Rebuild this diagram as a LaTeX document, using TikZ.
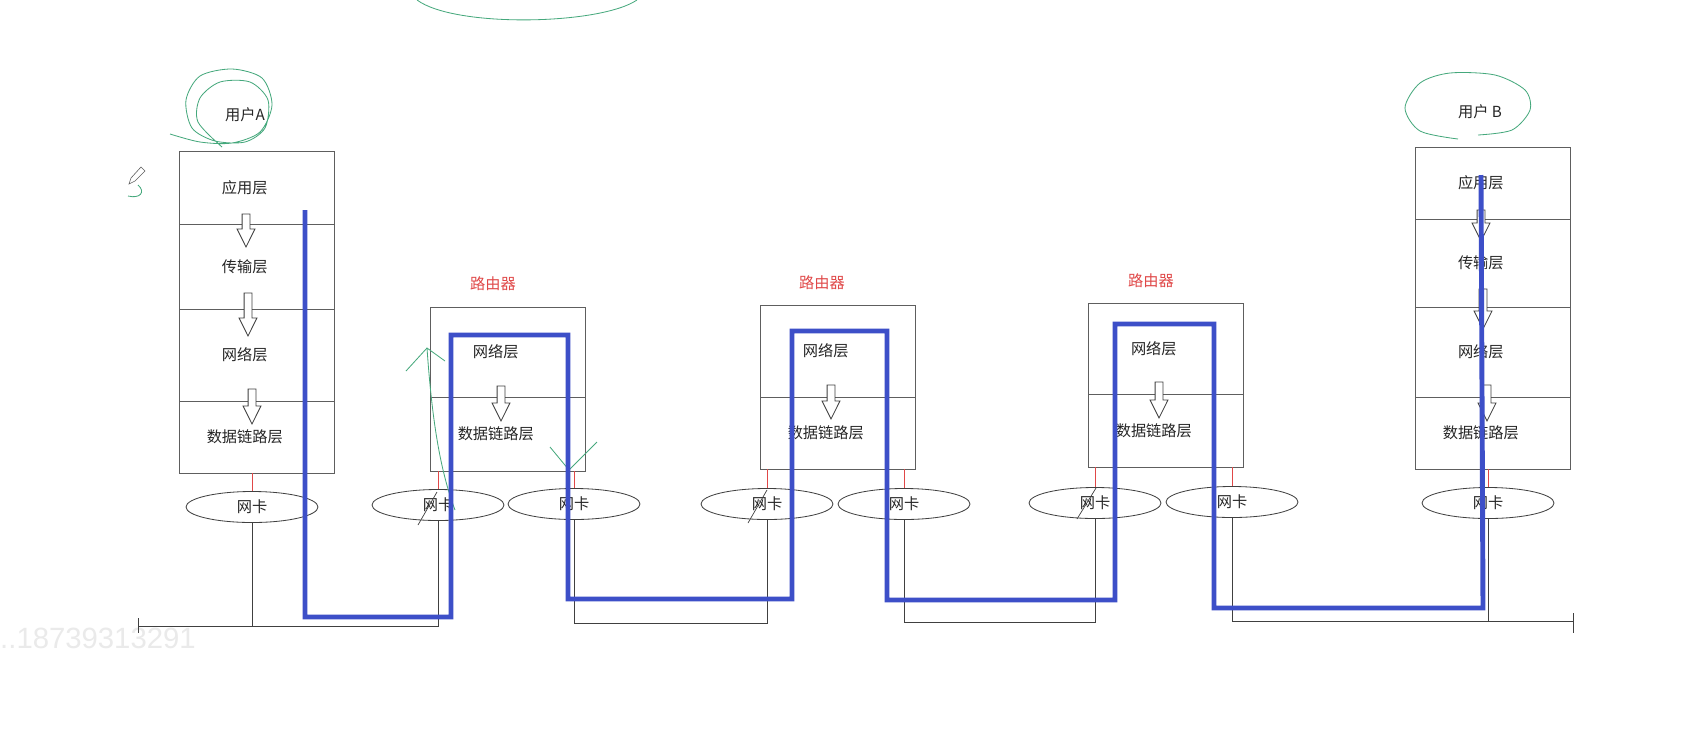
\documentclass[tikz,border=0pt]{standalone}
\usepackage{fontspec}
\newfontfamily\cn{Noto Sans CJK SC}
\newfontfamily\wmfont{Liberation Sans}
\usepackage{tikz}
\usetikzlibrary{positioning,shapes.geometric,shapes.arrows}
\definecolor{boxc}{HTML}{5E5E5E}
\definecolor{wirec}{HTML}{404040}
\definecolor{pathc}{HTML}{3D4FC8}
\definecolor{redc}{HTML}{E04848}
\definecolor{penc}{HTML}{45A87C}
\definecolor{txtc}{HTML}{262626}
\definecolor{wmc}{HTML}{EAEAEA}
\tikzset{
  layer/.style={draw=boxc,line width=0.8pt,minimum width=4.67cm,inner sep=0pt,outer sep=0pt,text=txtc,font=\cn\fontsize{13}{15}\selectfont,execute at end node={\hspace{0.72cm}}},
  nic/.style={ellipse,draw=wirec,line width=0.7pt,minimum width=3.96cm,minimum height=0.93cm,inner sep=0pt,text=txtc,font=\cn\fontsize{13}{15}\selectfont},
  darr/.style={single arrow,draw=wirec,line width=0.7pt,fill=white,shape border rotate=270,inner sep=0.105cm,single arrow head extend=0.15cm,single arrow tip angle=53},
  wire/.style={draw=wirec,line width=0.7pt},
  nicln/.style={draw=redc,line width=0.6pt},
  route/.style={draw=pathc,line width=4.2pt},
  pen/.style={draw=penc,line width=0.7pt},
  rlab/.style={text=redc,font=\cn\fontsize{13}{15}\selectfont},
  ulab/.style={text=txtc,font=\cn\fontsize{13}{15}\selectfont}
}

\begin{document}
\begin{tikzpicture}[x=0.03cm,y=-0.03cm]
\useasboundingbox (0,0) rectangle (1701,742);
\fill[white] (0,0) rectangle (1701,742);
\node[anchor=west,inner sep=0pt,text=wmc,font=\wmfont\fontsize{25}{27}\selectfont] (wm) at (0,638) {..18739313291};
% host A
\node[ulab] (uA) at (245,115) {用户A};
\node[layer,minimum height=2.19cm,anchor=north west] (aApp) at (179,151) {应用层};
\node[layer,minimum height=2.55cm,below=0pt of aApp] (aTrn) {传输层};
\node[layer,minimum height=2.76cm,below=0pt of aTrn] (aNet) {网络层};
\node[layer,minimum height=2.16cm,below=0pt of aNet] (aDat) {数据链路层};
\node[darr,minimum height=0.99cm] (aA1) at (246,226.5) {};
\node[darr,minimum height=1.29cm] (aA2) at (248,310.5) {};
\node[darr,minimum height=1.05cm] (aA3) at (252,402.5) {};
% routers
\node[rlab] (r1t) at (493,284) {路由器};
\node[layer,minimum height=2.70cm,anchor=north west] (r1Net) at (430,307) {网络层};
\node[layer,minimum height=2.22cm,below=0pt of r1Net] (r1Dat) {数据链路层};
\node[darr,minimum height=1.05cm] (r1A) at (501,399.5) {};
\node[rlab] (r2t) at (822,283) {路由器};
\node[layer,minimum height=2.76cm,anchor=north west] (r2Net) at (760,305) {网络层};
\node[layer,minimum height=2.16cm,below=0pt of r2Net] (r2Dat) {数据链路层};
\node[darr,minimum height=1.02cm] (r2A) at (831,398) {};
\node[rlab] (r3t) at (1151,281) {路由器};
\node[layer,minimum height=2.73cm,anchor=north west] (r3Net) at (1088,303) {网络层};
\node[layer,minimum height=2.19cm,below=0pt of r3Net] (r3Dat) {数据链路层};
\node[darr,minimum height=1.08cm] (r3A) at (1159,396) {};
% host B
\node[ulab] (uB) at (1480,112) {用户 B};
\node[layer,minimum height=2.16cm,anchor=north west] (bApp) at (1415,147) {应用层};
\node[layer,minimum height=2.64cm,below=0pt of bApp] (bTrn) {传输层};
\node[layer,minimum height=2.70cm,below=0pt of bTrn] (bNet) {网络层};
\node[layer,minimum height=2.16cm,below=0pt of bNet] (bDat) {数据链路层};
\node[darr,minimum height=0.93cm] (bA1) at (1481,221.5) {};
\node[darr,minimum height=1.20cm] (bA2) at (1483,305) {};
\node[darr,minimum height=1.08cm] (bA3) at (1487,399) {};
% network cards
\node[nic] (aNic) at (252,507) {网卡};
\node[nic] (r1l) at (438,505) {网卡};
\node[nic] (r1r) at (574,504) {网卡};
\node[nic] (r2l) at (767,504) {网卡};
\node[nic] (r2r) at (904,504) {网卡};
\node[nic] (r3l) at (1095,503) {网卡};
\node[nic] (r3r) at (1232,502) {网卡};
\node[nic] (bNic) at (1488,503) {网卡};
\foreach \n/\b in {aNic/aDat,r1l/r1Dat,r1r/r1Dat,r2l/r2Dat,r2r/r2Dat,r3l/r3Dat,r3r/r3Dat,bNic/bDat}
  \draw[nicln] (\n.north) -- (\n.north |- \b.south);
% cables
\coordinate (busA) at (138,626);
\coordinate (bus2) at (670,623);
\coordinate (bus3) at (1000,622);
\coordinate (busB) at (1573,621);
\draw[wire] (aNic.south) -- (aNic.south |- busA);
\draw[wire] (r1l.south) |- (busA);
\draw[wire] (busA) ++(0,-8) -- ++(0,15);
\draw[wire] (r1r.south) |- (bus2) -| (r2l.south);
\draw[wire] (r2r.south) |- (bus3) -| (r3l.south);
\draw[wire] (r3r.south) |- (busB);
\draw[wire] (bNic.south) -- (bNic.south |- busB);
\draw[wire] (busB) ++(0,-8) -- ++(0,20);
% pen marks
\draw[wire,line width=0.6pt] (418,525) -- (437,492);
\draw[wire,line width=0.6pt] (748,523) -- (767,490);
\draw[wire,line width=0.6pt] (1077,519) -- (1096,488);
\draw[pen] (417,0) .. controls (455,28) and (600,25) .. (637,0);
\draw[pen] plot[smooth] coordinates {(170,134) (200,142) (232,143) (260,132) (272,105) (262,78) (232,69) (200,76) (186,100) (192,128) (215,141) (245,142) (265,128) (268,100) (250,82) (220,82) (200,98) (198,122) (222,147)};
\draw[pen] plot[smooth] coordinates {(1458,139) (1420,131) (1405,108) (1420,83) (1450,73) (1495,75) (1525,90) (1530,110) (1512,130) (1478,135)};
\draw[boxc,line width=0.5pt] (129,184) -- (131,178) -- (141,167) -- (145,171) -- (135,181) -- cycle;
\draw[pen] (138,185) .. controls (146,192) and (140,199) .. (128,196);
\draw[pen] (406,371) -- (427,348) -- (445,361);
\draw[pen] (427,348) .. controls (432,420) and (440,470) .. (455,510);
\draw[pen] (550,447) -- (569,470) -- (597,442);
% packet path
\draw[route] (305,210) |- (451,617) |- (568,335) |- (792,599) |- (887,331) |- (1115,600) |- (1214,324) |- (1483,608) -- (1481,175);
\end{tikzpicture}
\end{document}
